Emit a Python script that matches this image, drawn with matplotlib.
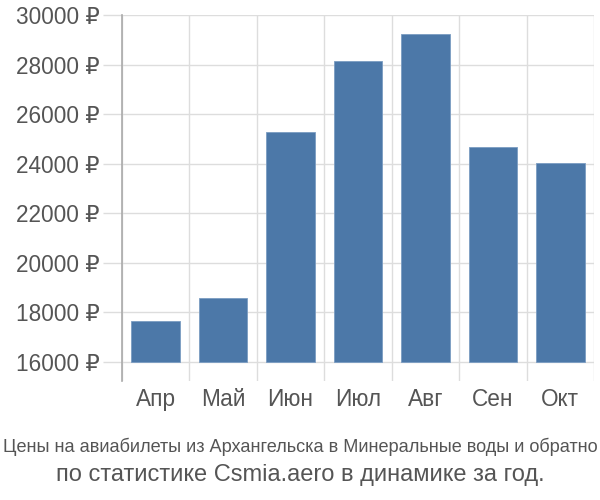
import matplotlib
matplotlib.use("Agg")
import matplotlib.pyplot as plt
from matplotlib.ticker import FixedLocator

months = ["Апр", "Май", "Июн", "Июл", "Авг", "Сен", "Окт"]
prices = [17660, 18590, 25270, 28140, 29230, 24660, 24010]
yticks = [16000, 18000, 20000, 22000, 24000, 26000, 28000, 30000]
ytick_labels = [f"{v} ₽" for v in yticks]
title1 = "Цены на авиабилеты из Архангельска в Минеральные воды и обратно"
title2 = "по статистике Csmia.aero в динамике за год."

plt.rcParams['font.family'] = ['Liberation Sans', 'DejaVu Sans']
fig = plt.figure(figsize=(6, 5), dpi=100)
ax = fig.add_axes([122/600, 1-381/500, (594-122)/600, (381-15)/500])

base = 16000
x = list(range(len(months)))
ax.bar(x, [p - base for p in prices], bottom=base, width=0.72, color="#4c78a8",
       edgecolor="#7a9cc2", linewidth=0.6, zorder=3)

ax.set_xlim(-0.5, len(months) - 0.5)
ax.set_ylim(15230, 30000)
ax.set_yticks(yticks)
ax.set_yticklabels(ytick_labels)
ax.set_xticks(x)
ax.set_xticklabels(months)
ax.xaxis.set_minor_locator(FixedLocator([i - 0.5 for i in range(len(months) + 1)]))

for s in ["top", "right", "bottom"]:
    ax.spines[s].set_visible(False)
ax.spines["left"].set_color("#aaaaaa")
ax.spines["left"].set_linewidth(1.2)

ax.grid(axis="y", color="#dddddd", linewidth=1, zorder=0)
ax.grid(axis="x", which="minor", color="#dddddd", linewidth=1, zorder=0)
ax.tick_params(axis="y", length=14, color="#dddddd", width=1, pad=2,
               labelsize=16.3, labelcolor="#555555")
ax.tick_params(axis="x", which="major", length=0, pad=5, labelsize=16.3, labelcolor="#555555")
ax.tick_params(axis="x", which="minor", length=0)

fig.text(0.5, 1-447/500, title1, ha="center", va="center", fontsize=13.1,
         color="#555555")
fig.text(0.5, 1-475/500, title2, ha="center", va="center", fontsize=17,
         color="#555555")

fig.savefig("out.png", dpi=100)
